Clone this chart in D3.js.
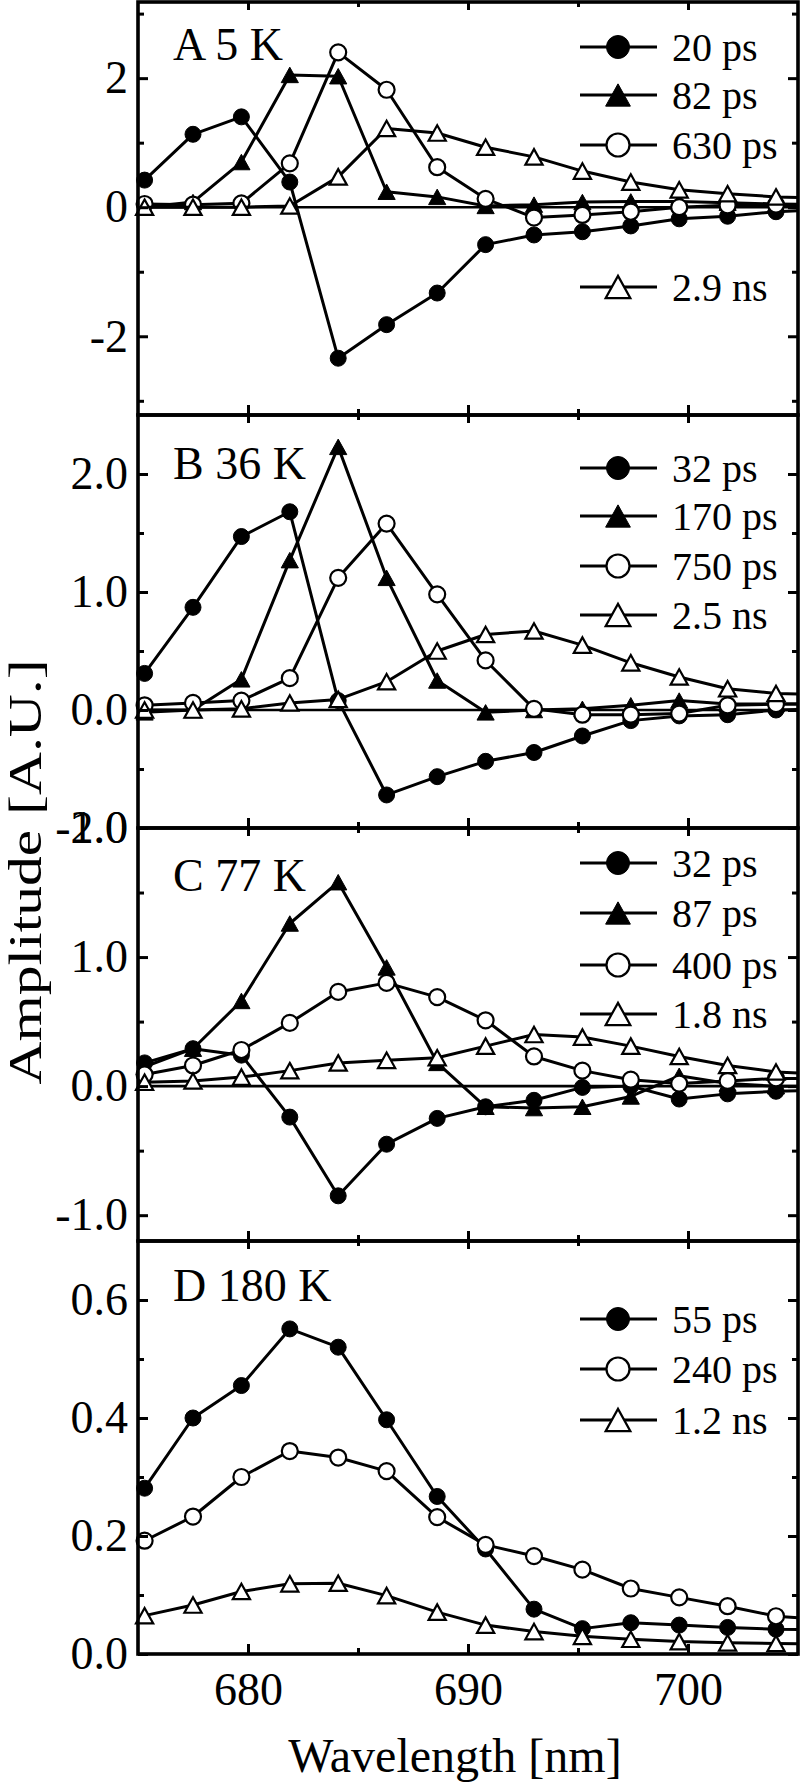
<!DOCTYPE html>
<html><head><meta charset="utf-8">
<script src="https://cdn.jsdelivr.net/npm/d3@7"></script>
<style>
body{margin:0;background:#fff}
svg{display:block}
text{font-family:"Liberation Serif","Times New Roman",serif;fill:#000}
</style>
</head><body>
<svg id="chart" width="800" height="1785"></svg>
<script>
// ---------------- DATA ----------------
const wavelengths = [675.3, 677.5, 679.7, 681.9, 684.1, 686.3, 688.6, 690.8, 693.0, 695.2, 697.4, 699.6, 701.8, 704.0, 706.2];

const panelLabels = ["A 5 K", "B 36 K", "C 77 K", "D 180 K"];

const labelsA = ["20 ps", "82 ps", "630 ps", "2.9 ns"];
const labelsB = ["32 ps", "170 ps", "750 ps", "2.5 ns"];
const labelsC = ["32 ps", "87 ps", "400 ps", "1.8 ns"];
const labelsD = ["55 ps", "240 ps", "1.2 ns"];

const markersABC = ["filledCircle", "filledTriangle", "openCircle", "openTriangle"];
const markersD = ["filledCircle", "openCircle", "openTriangle"];

// Panel A, 5 K
const A_20ps  = [0.42, 1.13, 1.40, 0.39, -2.34, -1.82, -1.33, -0.58, -0.43, -0.38, -0.29, -0.18, -0.14, -0.07, -0.04];
const A_82ps  = [0.00, 0.08, 0.70, 2.05, 2.03, 0.24, 0.16, 0.02, 0.04, 0.08, 0.09, 0.09, 0.07, 0.05, 0.04];
const A_630ps = [0.05, 0.04, 0.06, 0.68, 2.40, 1.82, 0.62, 0.13, -0.16, -0.12, -0.07, 0.00, 0.03, 0.04, 0.03];
const A_2_9ns = [0.00, 0.00, 0.00, 0.02, 0.47, 1.22, 1.15, 0.93, 0.78, 0.56, 0.39, 0.27, 0.21, 0.16, 0.14];

// Panel B, 36 K
const B_32ps  = [0.31, 0.87, 1.47, 1.68, 0.08, -0.72, -0.565, -0.435, -0.36, -0.22, -0.09, -0.05, -0.04, 0.00, 0.01];
const B_170ps = [-0.02, 0.00, 0.26, 1.27, 2.23, 1.12, 0.25, -0.02, 0.00, 0.01, 0.04, 0.08, 0.05, 0.05, 0.05];
const B_750ps = [0.04, 0.06, 0.08, 0.27, 1.12, 1.58, 0.98, 0.42, 0.01, -0.04, -0.04, -0.03, 0.04, 0.05, 0.05];
const B_2_5ns = [0.00, 0.00, 0.01, 0.06, 0.09, 0.24, 0.50, 0.64, 0.67, 0.55, 0.40, 0.28, 0.18, 0.14, 0.13];

// Panel C, 77 K
const C_32ps  = [0.18, 0.29, 0.24, -0.24, -0.85, -0.45, -0.25, -0.16, -0.11, -0.01, 0.00, -0.10, -0.06, -0.04, -0.03];
const C_87ps  = [0.15, 0.29, 0.66, 1.26, 1.58, 0.92, 0.18, -0.16, -0.17, -0.16, -0.08, 0.08, 0.02, 0.00, 0.00];
const C_400ps = [0.09, 0.16, 0.28, 0.49, 0.73, 0.80, 0.69, 0.51, 0.23, 0.12, 0.05, 0.02, 0.04, 0.06, 0.06];
const C_1_8ns = [0.03, 0.04, 0.07, 0.12, 0.18, 0.20, 0.22, 0.31, 0.40, 0.38, 0.31, 0.23, 0.16, 0.11, 0.09];

// Panel D, 180 K
const D_55ps  = [0.281, 0.400, 0.455, 0.551, 0.520, 0.397, 0.267, 0.178, 0.076, 0.043, 0.053, 0.049, 0.045, 0.042, 0.041];
const D_240ps = [0.192, 0.233, 0.300, 0.344, 0.333, 0.310, 0.232, 0.185, 0.166, 0.143, 0.111, 0.096, 0.081, 0.064, 0.058];
const D_1_2ns = [0.065, 0.083, 0.106, 0.119, 0.120, 0.099, 0.071, 0.049, 0.038, 0.030, 0.025, 0.021, 0.019, 0.018, 0.017];

// Axis tick values
const xDomain = [675, 705];
const xMajorTicks = [680, 690, 700];
const xMinorTicks = [685, 695];

const yDomainA = [-3.22, 3.18], yMajorA = [-2, 0, 2], yMinorA = [-3, -1, 1, 3];
const yDomainB = [-1.0, 2.5],   yMajorB = [-1, 0, 1, 2], yMinorB = [-0.5, 0.5, 1.5];
const yDomainC = [-1.2, 2.0],   yMajorC = [-1, 0, 1, 2], yMinorC = [-0.5, 0.5, 1.5];
const yDomainD = [0, 0.7],      yMajorD = [0, 0.2, 0.4, 0.6], yMinorD = [0.1, 0.3, 0.5];

const xTitle = "Wavelength [nm]";
const yTitle = "Amplitude [A.U.]";

// ---------------- LAYOUT ----------------
const left = 138, right = 798;
const panelTops = [2, 415, 828, 1241];
const panelH = 413;

const fmtInt = d => d3.format("d")(d).replace("−", "-");
const fmt1 = d => d3.format(".1f")(d).replace("−", "-");

const panels = [
  { label: panelLabels[0], names: labelsA, markers: markersABC, series: [A_20ps, A_82ps, A_630ps, A_2_9ns],
    yDomain: yDomainA, major: yMajorA, minor: yMinorA, fmt: fmtInt,
    labelOff: 58, legendOff: [45, 93, 143, 285], zero: true, xLabels: false },
  { label: panelLabels[1], names: labelsB, markers: markersABC, series: [B_32ps, B_170ps, B_750ps, B_2_5ns],
    yDomain: yDomainB, major: yMajorB, minor: yMinorB, fmt: fmt1,
    labelOff: 64, legendOff: [53, 101, 151, 200], zero: true, xLabels: false },
  { label: panelLabels[2], names: labelsC, markers: markersABC, series: [C_32ps, C_87ps, C_400ps, C_1_8ns],
    yDomain: yDomainC, major: yMajorC, minor: yMinorC, fmt: fmt1,
    labelOff: 63, legendOff: [35, 85, 137, 186], zero: true, xLabels: false },
  { label: panelLabels[3], names: labelsD, markers: markersD, series: [D_55ps, D_240ps, D_1_2ns],
    yDomain: yDomainD, major: yMajorD, minor: yMinorD, fmt: fmt1,
    labelOff: 60, legendOff: [78, 128, 179], zero: false, xLabels: true }
];

const svg = d3.select("#chart");
const x = d3.scaleLinear().domain(xDomain).range([left, right]);

function drawMarker(g, type, cx, cy, r) {
  const filled = type.startsWith("filled");
  if (type.endsWith("Circle")) {
    g.append("circle").attr("cx", cx).attr("cy", cy).attr("r", r)
      .attr("fill", filled ? "#000" : "#fff").attr("stroke", "#000").attr("stroke-width", filled ? 1 : 2.2);
  } else {
    const w = r * 2.15, h = w * 0.9;
    const p = `M${cx},${cy - h / 2}L${cx + w / 2},${cy + h / 2}L${cx - w / 2},${cy + h / 2}Z`;
    g.append("path").attr("d", p)
      .attr("fill", filled ? "#000" : "#fff").attr("stroke", "#000").attr("stroke-width", filled ? 1 : 2.2)
      .attr("stroke-linejoin", "miter");
  }
}

panels.forEach((p, pi) => {
  const top = panelTops[pi], bottom = top + panelH;
  const y = d3.scaleLinear().domain(p.yDomain).range([bottom, top]);
  const g = svg.append("g");

  const clipId = "clip" + pi;
  svg.append("clipPath").attr("id", clipId).append("rect")
    .attr("x", left).attr("y", top).attr("width", right - left).attr("height", panelH);

  if (p.zero) {
    g.append("line").attr("x1", left).attr("x2", right).attr("y1", y(0)).attr("y2", y(0))
      .attr("stroke", "#000").attr("stroke-width", 2.6);
  }

  const line = d3.line().x((d, i) => x(wavelengths[i])).y(d => y(d));

  p.series.forEach((vals, si) => {
    const sg = g.append("g");
    sg.append("path").datum(vals).attr("d", line).attr("fill", "none")
      .attr("stroke", "#000").attr("stroke-width", 3).attr("stroke-linejoin", "round")
      .attr("clip-path", `url(#${clipId})`);
    vals.forEach((v, i) => {
      if (wavelengths[i] <= xDomain[1]) drawMarker(sg, p.markers[si], x(wavelengths[i]), y(v), 8);
    });
  });

  g.append("rect").attr("x", left).attr("y", top).attr("width", right - left).attr("height", panelH)
    .attr("fill", "none").attr("stroke", "#000").attr("stroke-width", 3.6);

  const styleAxis = sel => {
    sel.select(".domain").remove();
    sel.selectAll(".tick line").attr("stroke", "#000").attr("stroke-width", 3);
    sel.selectAll(".tick text").attr("font-size", 46).attr("fill", "#000")
      .attr("font-family", "'Liberation Serif','Times New Roman',serif");
  };

  g.append("g").attr("transform", `translate(${left},0)`)
    .call(d3.axisLeft(y).tickValues(p.major).tickSize(-10).tickPadding(10).tickFormat(p.fmt))
    .call(styleAxis);
  g.append("g").attr("transform", `translate(${left},0)`)
    .call(d3.axisLeft(y).tickValues(p.minor).tickSize(-6).tickFormat(""))
    .call(styleAxis);
  g.append("g").attr("transform", `translate(${right},0)`)
    .call(d3.axisRight(y).tickValues(p.major).tickSize(-10).tickFormat(""))
    .call(styleAxis);
  g.append("g").attr("transform", `translate(${right},0)`)
    .call(d3.axisRight(y).tickValues(p.minor).tickSize(-6).tickFormat(""))
    .call(styleAxis);

  g.append("g").attr("transform", `translate(0,${bottom})`)
    .call(d3.axisBottom(x).tickValues(xMajorTicks).tickSize(-10).tickPadding(18)
      .tickFormat(p.xLabels ? d3.format("d") : ""))
    .call(styleAxis);
  g.append("g").attr("transform", `translate(0,${bottom})`)
    .call(d3.axisBottom(x).tickValues(xMinorTicks).tickSize(-6).tickFormat(""))
    .call(styleAxis);
  g.append("g").attr("transform", `translate(0,${top})`)
    .call(d3.axisTop(x).tickValues(xMajorTicks).tickSize(-8).tickFormat(""))
    .call(styleAxis);
  g.append("g").attr("transform", `translate(0,${top})`)
    .call(d3.axisTop(x).tickValues(xMinorTicks).tickSize(-5).tickFormat(""))
    .call(styleAxis);

  g.append("text").attr("x", 173).attr("y", top + p.labelOff).attr("font-size", 46).text(p.label);

  p.names.forEach((name, si) => {
    const ly = top + p.legendOff[si];
    const lg = g.append("g");
    lg.append("line").attr("x1", 580).attr("x2", 657).attr("y1", ly).attr("y2", ly)
      .attr("stroke", "#000").attr("stroke-width", 3.2);
    drawMarker(lg, p.markers[si], 618, ly, 11.5);
    lg.append("text").attr("x", 672).attr("y", ly + 14).attr("font-size", 40).text(name);
  });
});

svg.append("text").attr("x", 455).attr("y", 1772).attr("font-size", 48)
  .attr("text-anchor", "middle").text(xTitle);
svg.append("text").attr("transform", "translate(41,872) rotate(-90)").attr("font-size", 46)
  .attr("text-anchor", "middle").attr("textLength", 425).attr("lengthAdjust", "spacingAndGlyphs")
  .text(yTitle);
</script>
</body></html>
